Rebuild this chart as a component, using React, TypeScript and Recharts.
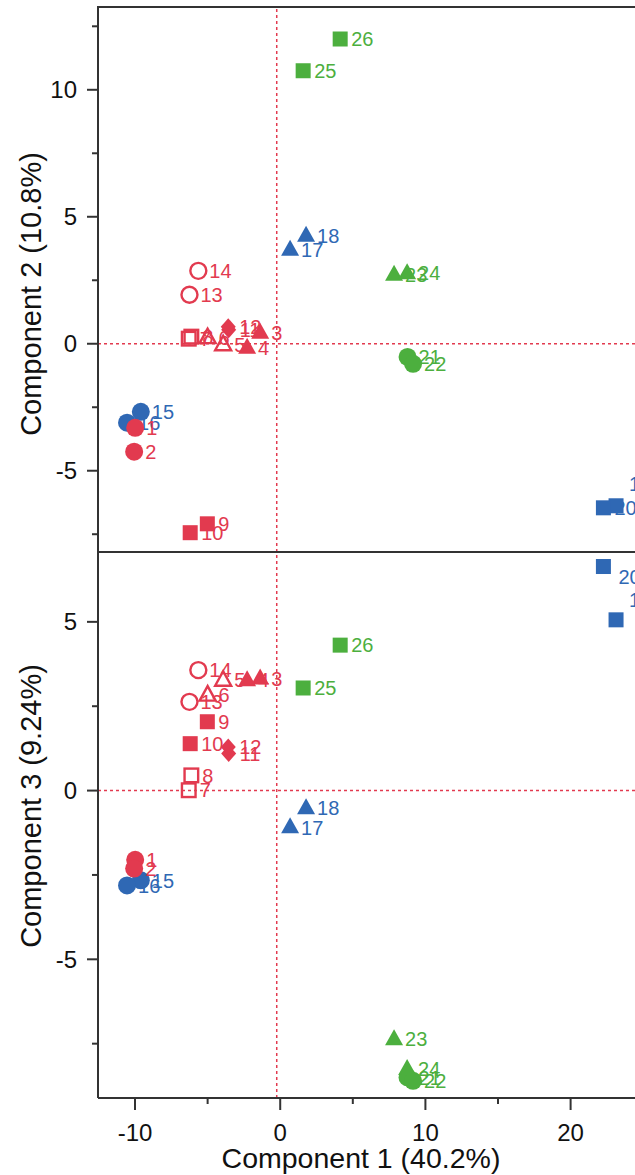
import React from 'react'
import { ScatterChart, Scatter, XAxis, YAxis, ReferenceLine } from 'recharts'

// sample numbers and their scores on the first three components
const pointIds = [1, 2, 3, 4, 5, 6, 7, 8, 9, 10, 11, 12, 13, 14, 15, 16, 17, 18, 19, 20, 21, 22, 23, 24, 25, 26]
const comp1 = [-9.99, -10.06, -1.38, -2.28, -3.93, -5.0, -6.3, -6.12, -5.02, -6.2, -3.55, -3.58, -6.25, -5.64, -9.6, -10.55, 0.68, 1.78, 23.13, 22.26, 8.77, 9.15, 7.84, 8.74, 1.58, 4.13]
const comp2 = [-3.31, -4.25, 0.43, -0.16, -0.04, 0.24, 0.2, 0.28, -7.09, -7.44, 0.55, 0.67, 1.93, 2.87, -2.68, -3.11, 3.7, 4.25, -6.38, -6.46, -0.52, -0.79, 2.72, 2.78, 10.75, 12.0]
const comp3 = [-2.05, -2.31, 3.32, 3.27, 3.27, 2.83, 0.01, 0.45, 2.04, 1.39, 1.1, 1.29, 2.63, 3.57, -2.66, -2.81, -1.09, -0.52, 5.06, 6.64, -8.5, -8.6, -7.37, -8.25, 3.04, 4.31]
const pointGroup = [
  'redCircle', 'redCircle', 'redTriangle', 'redTriangle', 'redOpenTriangle', 'redOpenTriangle',
  'redOpenSquare', 'redOpenSquare', 'redSquare', 'redSquare', 'redDiamond', 'redDiamond',
  'redOpenCircle', 'redOpenCircle', 'blueCircle', 'blueCircle', 'blueTriangle', 'blueTriangle',
  'blueSquare', 'blueSquare', 'greenCircle', 'greenCircle', 'greenTriangle', 'greenTriangle',
  'greenSquare', 'greenSquare',
]
const groupOrder = [
  'blueCircle', 'redCircle', 'redOpenSquare', 'redSquare', 'redOpenTriangle', 'redTriangle',
  'redDiamond', 'redOpenCircle', 'blueTriangle', 'blueSquare', 'greenCircle', 'greenTriangle', 'greenSquare',
]

const xTicks = [-10, -5, 0, 5, 10, 15, 20, 25]
const topYTicks = [-7.5, -5, -2.5, 0, 2.5, 5, 7.5, 10, 12.5]
const bottomYTicks = [-7.5, -5, -2.5, 0, 2.5, 5]
const centerX = -0.24
const xTitle = 'Component 1 (40.2%)'
const topTitle = 'Component 2 (10.8%)'
const bottomTitle = 'Component 3 (9.24%)'

const RED = '#e23a4f'
const BLUE = '#2f68b4'
const GREEN = '#4caf3e'
const AXIS = '#333'

const groupStyle: Record<string, { color: string; shape: string; filled: boolean }> = {
  redCircle: { color: RED, shape: 'circle', filled: true },
  redTriangle: { color: RED, shape: 'triangle', filled: true },
  redOpenTriangle: { color: RED, shape: 'triangle', filled: false },
  redOpenSquare: { color: RED, shape: 'square', filled: false },
  redSquare: { color: RED, shape: 'square', filled: true },
  redDiamond: { color: RED, shape: 'diamond', filled: true },
  redOpenCircle: { color: RED, shape: 'circle', filled: false },
  blueCircle: { color: BLUE, shape: 'circle', filled: true },
  blueTriangle: { color: BLUE, shape: 'triangle', filled: true },
  blueSquare: { color: BLUE, shape: 'square', filled: true },
  greenCircle: { color: GREEN, shape: 'circle', filled: true },
  greenTriangle: { color: GREEN, shape: 'triangle', filled: true },
  greenSquare: { color: GREEN, shape: 'square', filled: true },
}

// labels pushed off their marker where the original plot moved them
const topNudge: Record<number, [number, number]> = { 19: [2, -22] }
const bottomNudge: Record<number, [number, number]> = { 19: [2, -20], 20: [4, 10] }

const rows = pointIds.map((id, i) => ({ id, c1: comp1[i], c2: comp2[i], c3: comp3[i], group: pointGroup[i] }))

const Marker = (props: any) => {
  const { cx, cy, payload, nudge } = props
  const st = groupStyle[payload.group]
  const c = st.color
  const fill = st.filled ? c : 'none'
  const sw = st.filled ? 0 : 2.4
  const [ndx, ndy] = nudge[payload.id] || [0, 0]
  let mark = null
  if (st.shape === 'circle') {
    mark = <circle cx={cx} cy={cy} r={st.filled ? 9 : 8} fill={fill} stroke={c} strokeWidth={sw} />
  } else if (st.shape === 'square') {
    const h = st.filled ? 7.5 : 6.8
    mark = <rect x={cx - h} y={cy - h} width={h * 2} height={h * 2} fill={fill} stroke={c} strokeWidth={sw} />
  } else if (st.shape === 'triangle') {
    const pts = st.filled
      ? `${cx},${cy - 10} ${cx - 9},${cy + 6} ${cx + 9},${cy + 6}`
      : `${cx},${cy - 9} ${cx - 8},${cy + 5.5} ${cx + 8},${cy + 5.5}`
    mark = <polygon points={pts} fill={fill} stroke={c} strokeWidth={sw} />
  } else {
    mark = <polygon points={`${cx},${cy - 8.5} ${cx + 7.5},${cy} ${cx},${cy + 8.5} ${cx - 7.5},${cy}`} fill={fill} />
  }
  return (
    <g>
      {mark}
      <text x={cx + 11 + ndx} y={cy + ndy} dy={7.2} fontSize={20} fill={c}>{payload.id}</text>
    </g>
  )
}

const YTick = (props: any) => {
  const { x, y, payload } = props
  const major = payload.value % 5 === 0
  return (
    <g>
      <line x1={x - (major ? 11 : 6)} x2={x} y1={y} y2={y} stroke={AXIS} strokeWidth={2} />
      {major && (
        <text x={x - 21} y={y} dy={8.6} textAnchor="end" fontSize={24} fill="#111">{payload.value}</text>
      )}
    </g>
  )
}

const XTick = (props: any) => {
  const { x, y, payload } = props
  const major = payload.value % 10 === 0
  return (
    <g>
      <line x1={x} x2={x} y1={y} y2={y + (major ? 12 : 6)} stroke={AXIS} strokeWidth={2} />
      {major && (
        <text x={x} y={y + 43} textAnchor="middle" fontSize={24} fill="#111">{payload.value}</text>
      )}
    </g>
  )
}

const yTitle = (text: string, cy: number) => () => (
  <text x={31} y={cy} transform={`rotate(-90 31 ${cy})`} textAnchor="middle" dominantBaseline="central" fontSize={29} fill="#111">
    {text}
  </text>
)

const xDomain = [-12.55, 29.05]
const topDomain = [-8.2, 13.26]
const bottomDomain = [-9.11, 7.07]

const renderSeries = (yKey: string, nudge: Record<number, [number, number]>) =>
  groupOrder.map((g) => (
    <Scatter
      key={g}
      data={rows.filter((r) => r.group === g)}
      dataKey={yKey}
      shape={(p: any) => <Marker {...p} nudge={nudge} />}
      isAnimationActive={false}
    />
  ))

const frameLine = (top: number) => (
  <div style={{ position: 'absolute', left: 97, top, width: 620, height: 2, background: AXIS }} />
)

export default function App() {
  return (
    <div style={{ position: 'absolute', left: 0, top: 0, width: 635, height: 1175, overflow: 'hidden', background: '#fff', fontFamily: '"Liberation Sans", Arial, sans-serif' }}>
      <div style={{ position: 'absolute', left: 0, top: 0 }}>
        <ScatterChart width={702} height={556} margin={{ top: 7, right: 0, bottom: 4, left: 0 }}>
          <XAxis type="number" dataKey="c1" domain={xDomain} allowDataOverflow height={0} tick={false} tickLine={false} axisLine={false} />
          <YAxis
            type="number"
            dataKey="c2"
            domain={topDomain}
            allowDataOverflow
            ticks={topYTicks}
            interval={0}
            width={98}
            tickSize={0}
            tickMargin={0}
            tickLine={false}
            tick={<YTick />}
            axisLine={{ stroke: AXIS, strokeWidth: 2 }}
            label={{ content: yTitle(topTitle, 294) }}
          />
          <ReferenceLine y={0} stroke={RED} strokeDasharray="3 3" strokeWidth={1.5} />
          <ReferenceLine x={centerX} stroke={RED} strokeDasharray="3 3" strokeWidth={1.5} />
          {renderSeries('c2', topNudge)}
        </ScatterChart>
      </div>
      <div style={{ position: 'absolute', left: 0, top: 552 }}>
        <ScatterChart width={702} height={623} margin={{ top: 0, right: 0, bottom: 0, left: 0 }}>
          <XAxis
            type="number"
            dataKey="c1"
            domain={xDomain}
            allowDataOverflow
            ticks={xTicks}
            interval={0}
            height={77}
            tickSize={0}
            tickMargin={0}
            tickLine={false}
            tick={<XTick />}
            axisLine={{ stroke: AXIS, strokeWidth: 2 }}
            label={{ content: () => <text x={361} y={616} textAnchor="middle" fontSize={28.5} fill="#111">{xTitle}</text> }}
          />
          <YAxis
            type="number"
            dataKey="c3"
            domain={bottomDomain}
            allowDataOverflow
            ticks={bottomYTicks}
            interval={0}
            width={98}
            tickSize={0}
            tickMargin={0}
            tickLine={false}
            tick={<YTick />}
            axisLine={{ stroke: AXIS, strokeWidth: 2 }}
            label={{ content: yTitle(bottomTitle, 254) }}
          />
          <ReferenceLine y={0} stroke={RED} strokeDasharray="3 3" strokeWidth={1.5} />
          <ReferenceLine x={centerX} stroke={RED} strokeDasharray="3 3" strokeWidth={1.5} />
          {renderSeries('c3', bottomNudge)}
        </ScatterChart>
      </div>
      {/* frame edges: top of the upper panel and the line between the panels */}
      {frameLine(6)}
      {frameLine(551)}
    </div>
  )
}
